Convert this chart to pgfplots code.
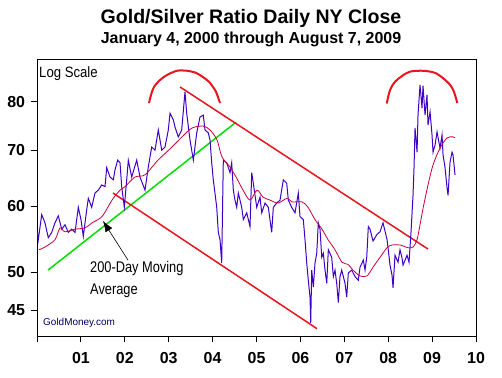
\documentclass[border=0pt]{standalone}
\usepackage{fontspec}
\setmainfont{Liberation Sans}
\usepackage{pgfplots}
\pgfplotsset{compat=1.18}
\usetikzlibrary{arrows.meta}
\definecolor{ratio}{HTML}{4000C8}
\definecolor{ma}{HTML}{C8003C}
\definecolor{trend}{HTML}{E8141E}
\definecolor{grn}{HTML}{00E000}
\pgfplotstableread{
x y
2000.011 55.8
2000.030 54.7
2000.107 58.6
2000.182 57.3
2000.257 55.0
2000.335 55.8
2000.410 57.3
2000.485 58.4
2000.563 56.3
2000.638 57.0
2000.713 55.8
2000.790 56.3
2000.866 55.8
2000.941 59.8
2001.002 57.8
2001.055 55.2
2001.132 59.4
2001.169 61.3
2001.246 59.8
2001.321 62.2
2001.396 62.7
2001.474 63.6
2001.549 63.3
2001.588 66.7
2001.663 65.0
2001.738 64.5
2001.777 66.3
2001.838 68.1
2001.891 67.6
2001.929 63.3
2001.989 59.8
2002.043 64.5
2002.080 68.1
2002.157 65.0
2002.271 68.1
2002.346 65.0
2002.460 62.7
2002.535 66.8
2002.613 70.6
2002.688 70.0
2002.763 74.0
2002.841 70.0
2002.916 70.6
2002.991 74.0
2003.030 77.5
2003.105 76.1
2003.144 74.6
2003.219 72.6
2003.296 74.0
2003.371 82.2
2003.410 77.5
2003.485 72.0
2003.561 68.1
2003.638 73.4
2003.713 76.7
2003.788 77.1
2003.827 74.0
2003.902 73.4
2003.941 72.0
2003.980 67.6
2004.016 64.5
2004.094 59.8
2004.130 55.8
2004.169 54.7
2004.207 51.3
2004.244 68.1
2004.321 67.6
2004.397 65.8
2004.435 67.6
2004.472 62.7
2004.510 61.0
2004.549 59.8
2004.586 62.2
2004.663 59.8
2004.700 57.8
2004.777 58.9
2004.852 56.7
2004.891 65.8
2004.927 63.9
2005.005 59.8
2005.080 61.5
2005.119 58.9
2005.194 60.5
2005.269 59.8
2005.346 55.8
2005.383 59.8
2005.460 60.5
2005.536 61.0
2005.611 64.5
2005.688 63.9
2005.725 61.0
2005.802 59.8
2005.877 58.9
2005.952 62.2
2005.991 58.3
2006.066 57.8
2006.105 54.7
2006.144 51.3
2006.180 48.9
2006.219 46.7
2006.235 43.5
2006.258 50.3
2006.294 48.0
2006.333 51.3
2006.372 52.7
2006.408 57.3
2006.447 56.3
2006.486 52.1
2006.522 52.7
2006.561 50.3
2006.600 48.5
2006.636 53.2
2006.713 52.1
2006.750 49.4
2006.788 50.3
2006.827 48.5
2006.864 46.0
2006.902 49.4
2006.941 50.3
2007.016 48.5
2007.055 46.7
2007.091 49.9
2007.169 50.3
2007.244 49.4
2007.319 48.9
2007.358 50.7
2007.433 51.7
2007.472 50.3
2007.511 52.1
2007.547 56.7
2007.586 56.3
2007.654 54.5
2007.745 55.5
2007.814 55.9
2007.882 57.3
2007.973 54.7
2007.996 53.5
2008.041 51.0
2008.087 49.6
2008.110 47.9
2008.155 52.4
2008.224 51.4
2008.269 53.2
2008.315 52.0
2008.338 51.0
2008.429 52.4
2008.474 51.4
2008.520 55.9
2008.565 61.8
2008.588 66.7
2008.611 74.4
2008.657 69.6
2008.679 77.1
2008.725 83.8
2008.770 78.6
2008.793 83.6
2008.839 77.1
2008.884 81.5
2008.907 75.0
2008.953 77.8
2008.998 73.0
2009.021 69.6
2009.067 71.0
2009.112 73.6
2009.180 70.4
2009.226 73.0
2009.249 69.1
2009.294 66.7
2009.340 63.1
2009.363 61.8
2009.408 67.7
2009.454 69.6
2009.476 69.1
2009.522 65.4
}\ratiodata
\pgfplotstableread{
x y
2000.046 53.2
2000.182 53.6
2000.410 54.7
2000.524 56.5
2000.638 55.9
2000.866 56.3
2001.093 56.5
2001.253 57.3
2001.481 58.3
2001.709 61.0
2001.891 62.7
2002.005 63.3
2002.232 65.0
2002.460 65.4
2002.756 68.1
2003.075 70.6
2003.303 72.6
2003.531 74.4
2003.782 74.8
2003.941 74.0
2004.100 72.0
2004.214 68.7
2004.397 66.8
2004.556 64.7
2004.693 62.7
2004.852 61.0
2005.012 62.7
2005.148 61.5
2005.308 61.0
2005.490 60.5
2005.695 61.3
2005.809 60.7
2006.037 60.7
2006.173 59.8
2006.333 57.8
2006.492 56.3
2006.629 54.7
2006.788 53.2
2006.948 51.4
2007.085 51.1
2007.198 50.3
2007.358 49.5
2007.517 49.5
2007.654 50.7
2007.814 52.1
2007.973 53.5
2008.087 53.9
2008.269 53.9
2008.451 53.5
2008.565 53.6
2008.657 54.7
2008.725 57.0
2008.793 59.6
2008.907 63.6
2009.021 67.2
2009.180 70.4
2009.340 72.4
2009.476 72.6
2009.522 72.4
}\madata
\begin{document}
\begin{tikzpicture}[x=1bp,y=1bp]
\path[use as bounding box] (0,0) rectangle (502,377);
\node[anchor=base, inner sep=0pt, font=\fontsize{19.6}{20}\bfseries\selectfont] at (251,353.7) {Gold/Silver Ratio Daily NY Close};
\node[anchor=base, inner sep=0pt, font=\fontsize{16}{17}\bfseries\selectfont] at (251,333.7) {January 4, 2000 through August 7, 2009};
\begin{axis}[
  at={(37bp,41bp)}, anchor=south west, scale only axis,
  width=439bp, height=277bp,
  xmin=2000, xmax=2010,
  ymode=log, ymin=41.95, ymax=89.98,
  xtick={2000,2001,...,2010},
  xticklabels={,01,02,03,04,05,06,07,08,09,10},
  minor x tick num=3,
  ytick={45,50,60,70,80},
  yticklabels={45,50,60,70,80},
  yminorticks=false,
  xtick pos=bottom, ytick pos=left,
  tick align=outside,
  major tick length=6.5bp, minor tick length=6.5bp,
  tick style={black, line width=0.8pt},
  axis line style={black, line width=0.9pt},
  ticklabel style={font=\fontsize{16}{16}\bfseries\selectfont},
  xticklabel style={yshift=-6bp},
  yticklabel style={xshift=-2bp},
  clip=true,
]
\addplot[grn, line width=1.5bp] coordinates {(2000.251,50.3) (2004.533,75.6)};
\addplot[trend, line width=1.5bp] coordinates {(2003.258,83.3) (2008.907,53.3)};
\addplot[trend, line width=1.5bp] coordinates {(2001.731,62.2) (2006.378,42.8)};
\addplot[trend, line width=2bp, smooth] coordinates {
(2002.551,79.7) (2002.597,81.5) (2002.665,83.3) (2002.802,84.9) (2002.961,86.1)
(2003.189,87.1) (2003.417,87.1) (2003.622,86.6) (2003.781,85.6) (2003.918,84.5)
(2004.009,83.3) (2004.078,82.2) (2004.123,81.0) (2004.169,79.7)};
\addplot[trend, line width=2bp, smooth] coordinates {
(2007.966,79.6) (2008.041,82.6) (2008.155,84.5) (2008.308,85.8) (2008.497,86.9)
(2008.800,87.1) (2009.066,86.6) (2009.255,85.3) (2009.408,83.8) (2009.499,82.2) (2009.574,79.7)};
\addplot[ratio, line width=1bp] table[x=x,y=y] {\ratiodata};
\addplot[ma, line width=0.8bp, smooth] table[x=x,y=y] {\madata};
\draw[-{Latex[length=11bp,width=8bp]}, line width=0.6bp, black] (axis cs:2002.073,51.7) -- (axis cs:2001.503,57.6);
\node[anchor=north west, inner sep=0pt] at (axis cs:2001.207,51.6) {\scalebox{0.83}[1]{\fontsize{15.5}{18}\selectfont 200-Day Moving}};
\node[anchor=north west, inner sep=0pt] at (axis cs:2001.207,48.5) {\scalebox{0.83}[1]{\fontsize{15.5}{18}\selectfont Average}};
\node[anchor=base west, inner sep=0pt, text=blue!40!black, font=\fontsize{10}{12}\selectfont] at (axis cs:2000.137,43.2) {GoldMoney.com};
\node[anchor=base west, inner sep=0pt] at (axis cs:2000.046,85.5) {\scalebox{0.88}[1]{\fontsize{15}{16}\selectfont Log Scale}};
\end{axis}
\end{tikzpicture}
\end{document}
